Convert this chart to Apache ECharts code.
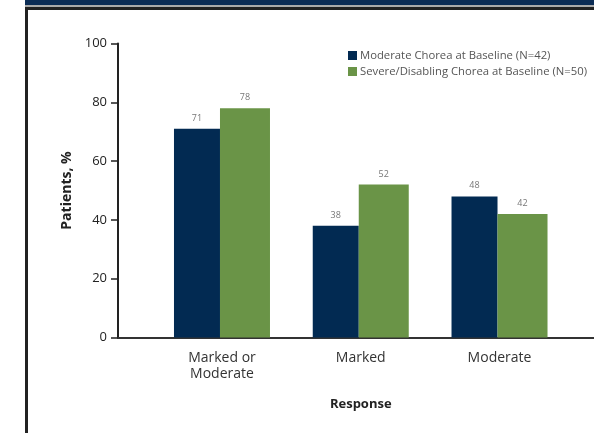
<!DOCTYPE html>
<html>
<head>
<meta charset="utf-8">
<script src="https://cdn.jsdelivr.net/npm/echarts@6/dist/echarts.min.js"></script>
<style>html,body{margin:0;padding:0;background:#fff}#c{width:594px;height:433px}</style>
</head>
<body>
<div id="c"></div>
<script>
var categories = ['Marked or\nModerate', 'Marked', 'Moderate'];
var moderateBaseline = [71, 38, 48];
var severeBaseline = [78, 52, 42];
var seriesNames = ['Moderate Chorea at Baseline (N=42)', 'Severe/Disabling Chorea at Baseline (N=50)'];
var yTicks = [0, 20, 40, 60, 80, 100];

var FONT = '"Open Sans", Lato, sans-serif';
var chart = echarts.init(document.getElementById('c'), null, {renderer: 'canvas'});
chart.setOption({
  animation: false,
  textStyle: {fontFamily: FONT},
  graphic: [
    {type: 'rect', shape: {x: 25, y: 0, width: 569, height: 5}, style: {fill: '#0b2c55'}},
    {type: 'rect', shape: {x: 25, y: 5, width: 569, height: 2}, style: {fill: '#aaaaaa'}},
    {type: 'rect', shape: {x: 25, y: 7, width: 569, height: 3}, style: {fill: '#222222'}},
    {type: 'rect', shape: {x: 25, y: 7, width: 3, height: 426}, style: {fill: '#222222'}}
  ],
  legend: {
    left: 343, top: 45, orient: 'vertical',
    itemWidth: 9, itemHeight: 9, itemGap: 5,
    icon: 'rect',
    textStyle: {fontSize: 11.3, color: '#555', fontFamily: FONT, padding: [0, 0, 0, -2]},
    data: seriesNames
  },
  grid: [
    {left: 152.6, right: 25.1, top: 43.5, bottom: 95.5},
    {left: 118, right: 0, top: 43.5, bottom: 95.5}
  ],
  xAxis: [
    {type: 'category', gridIndex: 0, data: categories,
     axisLine: {show: false}, axisTick: {show: false},
     axisLabel: {fontSize: 14, color: '#333', margin: 13, lineHeight: 16, fontFamily: FONT},
     name: 'Response', nameLocation: 'middle', nameGap: 60,
     nameTextStyle: {fontSize: 13, fontWeight: 'bold', color: '#222', fontFamily: FONT}},
    {type: 'value', gridIndex: 1, min: 0, max: 1,
     axisLine: {show: true, lineStyle: {color: '#333', width: 2}},
     axisTick: {show: false}, axisLabel: {show: false}, splitLine: {show: false}}
  ],
  yAxis: [
    {type: 'value', gridIndex: 0, min: 0, max: 100, show: false},
    {type: 'value', gridIndex: 1, min: 0, max: 100, interval: 20,
     axisLine: {show: true, lineStyle: {color: '#222', width: 2}},
     axisTick: {show: true, inside: false, length: 7, lineStyle: {color: '#222', width: 1.5}},
     axisLabel: {fontSize: 13, color: '#222', margin: 11, fontFamily: FONT,
       formatter: function (v) { return yTicks.indexOf(v) >= 0 ? String(v) : ''; }},
     splitLine: {show: false},
     name: 'Patients, %', nameLocation: 'middle', nameRotate: 90, nameGap: 44,
     nameTextStyle: {fontSize: 14, fontWeight: 'bold', color: '#222', fontFamily: FONT}}
  ],
  series: [
    {name: seriesNames[0], type: 'bar', xAxisIndex: 0, yAxisIndex: 0,
     data: moderateBaseline, barWidth: 46, barGap: '0%',
     itemStyle: {color: '#022a52'},
     label: {show: true, position: 'top', distance: 6, fontSize: 9, color: '#777', fontFamily: FONT}},
    {name: seriesNames[1], type: 'bar', xAxisIndex: 0, yAxisIndex: 0,
     data: severeBaseline, barWidth: 50, barGap: '0%',
     itemStyle: {color: '#6a9447'},
     label: {show: true, position: 'top', distance: 6, fontSize: 9, color: '#777', fontFamily: FONT}}
  ]
});
</script>
</body>
</html>
